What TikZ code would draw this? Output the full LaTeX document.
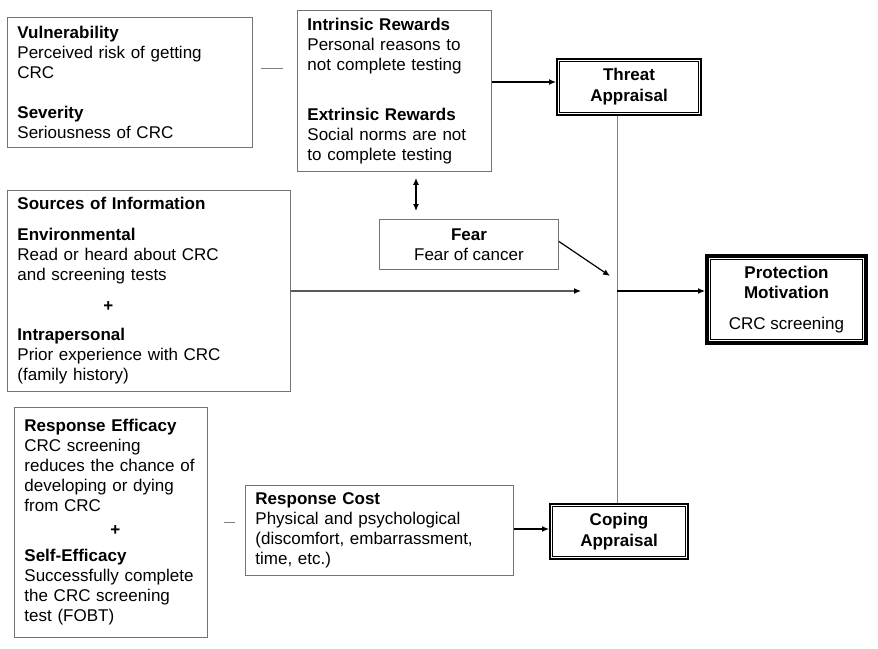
\documentclass[tikz,border=0pt]{standalone}
\usepackage{fontspec}
\setmainfont{Liberation Sans}
\usetikzlibrary{arrows.meta,calc}
\begin{document}
\begin{tikzpicture}[x=1pt,y=-1pt,
  box/.style={draw=black!55,line width=0.9pt,anchor=north west,inner ysep=0pt,inner xsep=10pt,
    font=\fontsize{17}{20}\selectfont,align=left},
  cbox/.style={draw=black!55,line width=0.9pt,anchor=north west,inner sep=0pt,
    font=\fontsize{17}{20}\selectfont,align=center},
  appr/.style={draw=black,line width=2pt,anchor=north west,inner sep=0pt,
    font=\fontsize{17}{21}\selectfont\bfseries,align=center},
  arr/.style={-{Latex[length=7pt,width=6pt]},line width=1.2pt,black},
  thin/.style={draw=black!50,line width=1pt}
]
\useasboundingbox (0,0) rectangle (878,648);
% boxes
\node[box,text width=225pt,minimum height=130pt] (vul) at (7,17)
  {\textbf{Vulnerability}\\Perceived risk of getting\\CRC\\[20pt]\textbf{Severity}\\Seriousness of CRC};
\node[box,text width=174pt,minimum height=161pt] (rew) at (297,10)
  {\textbf{Intrinsic Rewards}\\Personal reasons to\\not complete testing\\[30pt]\textbf{Extrinsic Rewards}\\Social norms are not\\to complete testing};
\node[cbox,minimum width=179pt,minimum height=50pt] (fear) at (379,219)
  {\textbf{Fear}\\Fear of cancer};
\node[box,text width=263pt,minimum height=201pt] (src) at (7,190)
  {\textbf{Sources of Information}\\[11pt]\textbf{Environmental}\\Read or heard about CRC\\and screening tests\\[11pt]\hspace*{86pt}\textbf{+}\\[9pt]\textbf{Intrapersonal}\\Prior experience with CRC\\(family history)};
\node[box,text width=173pt,minimum height=230pt] (eff) at (14,407)
  {\textbf{Response Efficacy}\\CRC screening\\reduces the chance of\\developing or dying\\from CRC\\[4pt]\hspace*{86pt}\textbf{+}\\[6pt]\textbf{Self-Efficacy}\\Successfully complete\\the CRC screening\\test (FOBT)};
\node[box,text width=248pt,minimum height=90pt] (cost) at (245,485)
  {\textbf{Response Cost}\\Physical and psychological\\(discomfort, embarrassment,\\time, etc.)};
\node[appr,minimum width=144pt,minimum height=56pt] (threat) at (556,58) {Threat\\Appraisal};
\node[appr,minimum width=138pt,minimum height=55pt] (coping) at (549,503) {Coping\\Appraisal};
\node[draw=black,line width=4pt,anchor=north west,inner sep=0pt,minimum width=159pt,minimum height=87pt,
  font=\fontsize{17}{20}\selectfont,align=center] (prot) at (705,254)
  {\textbf{Protection}\\\textbf{Motivation}\\[11pt]CRC screening};
% inner lines of double borders
\draw[line width=0.8pt] ([xshift=3.5pt,yshift=-3.5pt]threat.north west) rectangle ([xshift=-3.5pt,yshift=3.5pt]threat.south east);
\draw[line width=0.8pt] ([xshift=3.5pt,yshift=-3.5pt]coping.north west) rectangle ([xshift=-3.5pt,yshift=3.5pt]coping.south east);
\draw[line width=1pt] ([xshift=5.5pt,yshift=-5.5pt]prot.north west) rectangle ([xshift=-5.5pt,yshift=5.5pt]prot.south east);
% junction coordinates
\coordinate (vx) at (617,0);
\coordinate (jsrc) at (581,291);
\coordinate (jfear) at (610,276);
\coordinate (jx) at (617,291);
\coordinate (dx) at (416,0);
\coordinate (cy) at (0,529);
% connectors
\draw[thin] ([xshift=8pt,yshift=-51pt]vul.north east) -- ([xshift=-14pt,yshift=-58pt]rew.north west);
\draw[arr] (rew.east |- 0,82) -- (threat.west |- 0,82);
\draw[arr,{Latex[length=7pt,width=6pt]}-{Latex[length=7pt,width=6pt]},shorten <=6pt,shorten >=8pt] (rew.south -| dx) -- (fear.north -| dx);
\draw[arr] ([yshift=3pt]fear.east) -- (jfear);
\draw[arr] (src.east) -- (jsrc);
\draw[thin] (threat.south -| vx) -- (coping.north -| vx);
\draw[arr] (jx) -- (prot.west |- jx);
\draw[thin] ([xshift=16pt]eff.east) -- ([xshift=-10pt]cost.west |- eff.east);
\draw[arr] (cost.east |- cy) -- (coping.west |- cy);
\end{tikzpicture}
\end{document}
